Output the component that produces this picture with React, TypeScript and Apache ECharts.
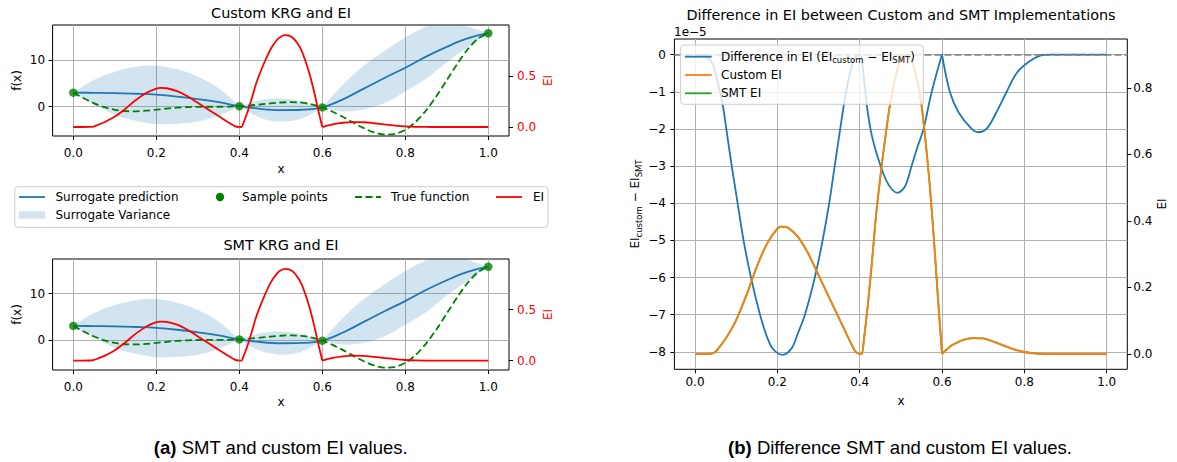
import React, { useEffect, useRef } from 'react';
import * as echarts from 'echarts';

// ---------- tick labels ----------
const xTicks = [0, 0.2, 0.4, 0.6, 0.8, 1.0];
const fTicks = [0, 10];
const eiTicksLeft = [0, 0.5];
const diffTicks = [-8, -7, -6, -5, -4, -3, -2, -1, 0];
const eiTicksRight = [0, 0.2, 0.4, 0.6, 0.8];

// ---------- true function ----------
const trueX = [0, 0.025, 0.05, 0.075, 0.1, 0.125, 0.15, 0.175, 0.2, 0.225, 0.25, 0.275, 0.3, 0.325, 0.35, 0.375, 0.4, 0.425, 0.45, 0.475, 0.5, 0.525, 0.55, 0.575, 0.6, 0.625, 0.65, 0.675, 0.7, 0.725, 0.75, 0.775, 0.8, 0.825, 0.85, 0.875, 0.9, 0.925, 0.95, 0.975, 1.0];
const trueF = [3.027, 1.813, 0.738, -0.1, -0.657, -0.935, -0.978, -0.854, -0.64, -0.407, -0.21, -0.079, -0.016, 0.0, 0.002, 0.03, 0.115, 0.27, 0.483, 0.717, 0.909, 0.986, 0.871, 0.503, -0.15, -1.074, -2.209, -3.439, -4.606, -5.522, -5.993, -5.845, -4.949, -3.254, -0.799, 2.272, 5.712, 9.187, 12.303, 14.648, 15.83];

// ---------- sample points ----------
const sampleX = [0, 0.4, 0.6, 1.0];
const sampleF = [3.03, 0.115, -0.15, 15.83];

// ---------- surrogate ----------
const surX = [0, 0.05, 0.1, 0.15, 0.2, 0.25, 0.3, 0.35, 0.4, 0.45, 0.5, 0.55, 0.6, 0.65, 0.7, 0.75, 0.8, 0.85, 0.9, 0.95, 1.0];
const surPred = [3.03, 3.0, 2.95, 2.8, 2.6, 2.2, 1.65, 1.0, 0.115, -0.45, -0.72, -0.65, -0.15, 1.6, 3.9, 6.2, 8.4, 10.8, 12.9, 14.7, 15.83];
const surUpper = [3.03, 5.8, 7.55, 8.6, 8.85, 8.05, 6.5, 4.0, 0.115, 1.45, 1.8, 1.25, -0.15, 4.8, 8.8, 12.0, 14.9, 17.2, 18.2, 17.3, 15.83];
const surLower = [3.03, 0.6, -1.7, -3.0, -3.74, -3.65, -3.2, -1.9, 0.115, -2.35, -3.2, -2.55, -0.15, -1.0, -0.6, 0.8, 3.3, 6.0, 9.6, 12.8, 15.83];

// ---------- expected improvement ----------
const eiX = [0, 0.02, 0.04, 0.05, 0.06, 0.075, 0.1, 0.125, 0.15, 0.175, 0.2, 0.21, 0.225, 0.25, 0.275, 0.3, 0.325, 0.35, 0.375, 0.39, 0.4, 0.405, 0.41, 0.42, 0.43, 0.44, 0.45, 0.46, 0.475, 0.49, 0.5, 0.51, 0.52, 0.53, 0.54, 0.55, 0.56, 0.57, 0.58, 0.59, 0.6, 0.61, 0.625, 0.65, 0.675, 0.7, 0.725, 0.75, 0.775, 0.8, 0.825, 0.85, 0.875, 0.9, 0.95, 1.0];
const eiCustom = [0, 0, 0.001, 0.007, 0.022, 0.047, 0.102, 0.177, 0.262, 0.332, 0.377, 0.383, 0.38, 0.352, 0.302, 0.237, 0.172, 0.107, 0.042, 0.007, 0.0, 0.0, 0.04, 0.15, 0.28, 0.42, 0.53, 0.63, 0.76, 0.85, 0.885, 0.9, 0.895, 0.87, 0.82, 0.75, 0.64, 0.51, 0.35, 0.17, 0.0, 0.012, 0.027, 0.042, 0.048, 0.047, 0.037, 0.025, 0.014, 0.006, 0.002, 0.0005, 0, 0, 0, 0];
const eiSMT = [0, 0, 0.001, 0.007, 0.022, 0.047, 0.102, 0.177, 0.262, 0.332, 0.377, 0.383, 0.38, 0.352, 0.302, 0.237, 0.172, 0.107, 0.042, 0.007, 0.0, 0.0, 0.04, 0.15, 0.28, 0.42, 0.53, 0.63, 0.76, 0.85, 0.885, 0.9, 0.895, 0.87, 0.82, 0.75, 0.64, 0.51, 0.35, 0.17, 0.0, 0.012, 0.027, 0.042, 0.048, 0.047, 0.037, 0.025, 0.014, 0.006, 0.002, 0.0005, 0, 0, 0, 0];

// ---------- difference (x 1e-5) ----------
const diffX = [0, 0.02, 0.04, 0.05, 0.067, 0.08, 0.09, 0.1, 0.118, 0.136, 0.158, 0.175, 0.19, 0.213, 0.235, 0.25, 0.267, 0.291, 0.31, 0.326, 0.338, 0.352, 0.367, 0.38, 0.39, 0.4, 0.405, 0.417, 0.43, 0.451, 0.47, 0.4915, 0.51, 0.526, 0.54, 0.555, 0.575, 0.6, 0.619, 0.64, 0.672, 0.688, 0.708, 0.73, 0.757, 0.781, 0.81, 0.838, 0.86, 0.9, 1.0];
const diffVals = [0, -0.02, -0.2, -0.5, -1.34, -2.3, -3.05, -3.75, -5, -6, -7, -7.6, -7.93, -8.08, -7.9, -7.5, -7, -6, -5, -4, -3.1, -2.05, -1, -0.35, -0.08, 0, -0.1, -1.34, -2.2, -3, -3.5, -3.72, -3.55, -3, -2.5, -2, -1, 0, -1, -1.55, -2, -2.09, -2, -1.6, -1, -0.5, -0.2, -0.03, 0, 0, 0];

// x positions of the kinks (sample points) where curves are not smooth
const kinkX = [0.4, 0.6];

const FONT = 'DejaVu Sans';
const CAP = 'Liberation Sans';
const BLUE = '#1f77b4';

const zip = (xs: number[], ys: number[]) => xs.map((x, i) => [x, ys[i]]);

// split a curve into pieces at the kinks (kink point belongs to both pieces)
function pieces<T>(xs: number[], rows: T[]): T[][] {
  const b = [-Infinity, ...kinkX, Infinity];
  const out: T[][] = [];
  for (let k = 0; k < b.length - 1; k++) {
    const seg: T[] = [];
    xs.forEach((x, i) => { if (x >= b[k] - 1e-9 && x <= b[k + 1] + 1e-9) seg.push(rows[i]); });
    out.push(seg);
  }
  return out;
}

function catmull(pts: number[][]) {
  let s = '';
  for (let i = 0; i < pts.length - 1; i++) {
    const p0 = pts[Math.max(i - 1, 0)], p1 = pts[i], p2 = pts[i + 1], p3 = pts[Math.min(i + 2, pts.length - 1)];
    const c1 = [p1[0] + (p2[0] - p0[0]) / 6, p1[1] + (p2[1] - p0[1]) / 6];
    const c2 = [p2[0] - (p3[0] - p1[0]) / 6, p2[1] - (p3[1] - p1[1]) / 6];
    s += 'C' + c1[0] + ',' + c1[1] + ' ' + c2[0] + ',' + c2[1] + ' ' + p2[0] + ',' + p2[1];
  }
  return s;
}

function xAxisCfg(gridIndex: number, margin: number) {
  return {
    type: 'value', gridIndex, min: -0.05, max: 1.05,
    axisLine: { show: false, onZero: false },
    axisTick: { show: true, customValues: xTicks, length: 4, lineStyle: { color: '#000', width: 1 } },
    axisLabel: { customValues: xTicks, formatter: (v: number) => v.toFixed(1), fontFamily: FONT, fontSize: 12, color: '#000', margin },
    splitLine: { show: true, lineStyle: { color: '#b0b0b0', width: 1 } },
  };
}

function yAxisCfg(gridIndex: number, min: number, max: number, ticks: number[], fmt: (v: number) => string, position: string, grid: boolean, color: string, margin: number) {
  return {
    type: 'value', gridIndex, min, max, position,
    axisLine: { show: false, onZero: false },
    axisTick: { show: true, customValues: ticks, length: 4, lineStyle: { color: '#000', width: 1 } },
    axisLabel: { customValues: ticks, formatter: fmt, fontFamily: FONT, fontSize: 12, color, margin },
    splitLine: { show: grid, lineStyle: { color: '#b0b0b0', width: 1 } },
  };
}

function bandSeries(g: number) {
  const rows = surX.map((x, i) => [x, surLower[i], surUpper[i]]);
  const segs = pieces(surX, rows);
  return {
    type: 'custom', name: 'Surrogate Variance', xAxisIndex: g, yAxisIndex: 2 * g, data: rows,
    encode: { x: 0, y: [1, 2] }, clip: true, silent: true, z: 1,
    renderItem: (params: any, api: any) => {
      if (params.dataIndex !== 0) return null;
      let d = '';
      segs.forEach((seg) => {
        const up = seg.map((r) => api.coord([r[0], r[2]]));
        const lo = seg.map((r) => api.coord([r[0], r[1]])).reverse();
        d += 'M' + up[0][0] + ',' + up[0][1] + catmull(up) + 'L' + lo[0][0] + ',' + lo[0][1] + catmull(lo) + 'Z';
      });
      const cs = params.coordSys;
      return {
        type: 'path', shape: { pathData: d }, style: { fill: 'rgba(31,119,180,0.2)' },
        clipPath: { type: 'rect', shape: { x: cs.x, y: cs.y, width: cs.width, height: cs.height } },
      };
    },
  };
}

function lineSet(name: string, xi: number, yi: number, xs: number[], ys: number[], color: string, z: number, smooth: number) {
  return pieces(xs, zip(xs, ys)).map((seg) => ({
    type: 'line', name, xAxisIndex: xi, yAxisIndex: yi, data: seg, symbol: 'none', smooth,
    lineStyle: { color, width: 1.8 }, z,
  }));
}

function leftSeries(g: number, ei: number[]) {
  const xi = g, yf = 2 * g, ye = 2 * g + 1;
  return [
    bandSeries(g),
    { type: 'line', name: 'Surrogate prediction', xAxisIndex: xi, yAxisIndex: yf, data: zip(surX, surPred), symbol: 'none', smooth: 0.4, lineStyle: { color: BLUE, width: 1.8 }, z: 3 },
    { type: 'line', name: 'True function', xAxisIndex: xi, yAxisIndex: yf, data: zip(trueX, trueF), symbol: 'none', smooth: 0.3, lineStyle: { color: '#008000', width: 1.8, type: [7, 3.5] }, z: 4 },
    { type: 'scatter', name: 'Sample points', xAxisIndex: xi, yAxisIndex: yf, data: zip(sampleX, sampleF), symbolSize: 8.5, itemStyle: { color: '#008000' }, z: 5 },
    ...lineSet('EI', xi, ye, eiX, ei, '#ff0000', 6, 0.3),
  ];
}

function txt(x: number, y: number, text: string, size: number, extra: any = {}, elExtra: any = {}) {
  return {
    type: 'text', x, y, z: 100, ...elExtra,
    style: { text, fontFamily: FONT, fontSize: size, fill: '#000', textAlign: 'center', textVerticalAlign: 'middle', ...extra },
  };
}

function buildOption() {
  const f1 = (v: number) => v.toFixed(1);
  const fInt = (v: number) => String(v);
  const fMinus = (v: number) => (v < 0 ? '\u2212' + Math.abs(v) : String(v));
  const sub = {
    n: { fontFamily: FONT, fontSize: 12, lineHeight: 16, verticalAlign: 'middle' },
    s: { fontFamily: FONT, fontSize: 8.5, lineHeight: 8, verticalAlign: 'bottom' },
  };
  const graphic: any[] = [
    txt(281, 13, 'Custom KRG and EI', 14.4),
    txt(281, 245, 'SMT KRG and EI', 14.4),
    txt(901, 15, 'Difference in EI between Custom and SMT Implementations', 14.4),
    txt(281, 169, 'x', 12),
    txt(281, 401.7, 'x', 12),
    txt(901, 400.7, 'x', 12),
    txt(16.7, 80.5, 'f(x)', 12, {}, { rotation: Math.PI / 2 }),
    txt(16.7, 314.5, 'f(x)', 12, {}, { rotation: Math.PI / 2 }),
    txt(548, 80.5, 'EI', 12, { fill: '#ff0000' }, { rotation: Math.PI / 2 }),
    txt(548, 314.5, 'EI', 12, { fill: '#ff0000' }, { rotation: Math.PI / 2 }),
    txt(1162, 204, 'EI', 12, {}, { rotation: Math.PI / 2 }),
    txt(635, 204, '{n|EI}{s|custom}{n| \u2212 EI}{s|SMT}', 12, { rich: sub }, { rotation: Math.PI / 2 }),
    txt(674, 31.7, '1e\u22125', 12, { textAlign: 'left' }),
    // left legend
    { type: 'rect', z: 90, shape: { x: 14.8, y: 186.7, width: 533.2, height: 40.6, r: 3 }, style: { fill: 'rgba(255,255,255,0.8)', stroke: '#cccccc', lineWidth: 1 } },
    { type: 'line', z: 100, shape: { x1: 19, y1: 197, x2: 45, y2: 197 }, style: { stroke: BLUE, lineWidth: 1.8 } },
    txt(55.5, 197, 'Surrogate prediction', 12, { textAlign: 'left' }),
    { type: 'circle', z: 100, shape: { cx: 220, cy: 197, r: 4.2 }, style: { fill: '#008000' } },
    txt(242, 197, 'Sample points', 12, { textAlign: 'left' }),
    { type: 'line', z: 100, shape: { x1: 355, y1: 197, x2: 381, y2: 197 }, style: { stroke: '#008000', lineWidth: 1.8, lineDash: [7, 3.5] } },
    txt(391, 197, 'True function', 12, { textAlign: 'left' }),
    { type: 'line', z: 100, shape: { x1: 496, y1: 197, x2: 522, y2: 197 }, style: { stroke: '#ff0000', lineWidth: 1.8 } },
    txt(533, 197, 'EI', 12, { textAlign: 'left' }),
    { type: 'rect', z: 100, shape: { x: 19, y: 211.3, width: 26, height: 7.4 }, style: { fill: 'rgba(31,119,180,0.2)' } },
    txt(55.5, 215, 'Surrogate Variance', 12, { textAlign: 'left' }),
    // right legend
    { type: 'rect', z: 90, shape: { x: 680.7, y: 45, width: 242.6, height: 59.3, r: 3 }, style: { fill: 'rgba(255,255,255,0.8)', stroke: '#cccccc', lineWidth: 1 } },
    { type: 'line', z: 100, shape: { x1: 685, y1: 56.7, x2: 711.7, y2: 56.7 }, style: { stroke: BLUE, lineWidth: 1.8 } },
    txt(721, 56.7, '{n|Difference in EI (EI}{s|custom}{n| \u2212 EI}{s|SMT}{n|)}', 12, { textAlign: 'left', rich: sub }),
    { type: 'line', z: 100, shape: { x1: 685, y1: 75, x2: 711.7, y2: 75 }, style: { stroke: '#ff7f0e', lineWidth: 1.8 } },
    txt(721, 75, 'Custom EI', 12, { textAlign: 'left' }),
    { type: 'line', z: 100, shape: { x1: 685, y1: 93.3, x2: 711.7, y2: 93.3 }, style: { stroke: '#2ca02c', lineWidth: 1.8 } },
    txt(721, 93.3, 'SMT EI', 12, { textAlign: 'left' }),
    // captions
    txt(280.8, 447, '{b|(a)} SMT and custom EI values.', 18.5, { fontFamily: CAP, rich: { b: { fontFamily: CAP, fontSize: 18.5, fontWeight: 'bold' } } }),
    txt(900, 447, '{b|(b)} Difference SMT and custom EI values.', 18.5, { fontFamily: CAP, rich: { b: { fontFamily: CAP, fontSize: 18.5, fontWeight: 'bold' } } }),
  ];

  const diffLines: any[] = lineSet('Difference in EI', 2, 4, diffX, diffVals, BLUE, 2, 0.35);
  diffLines[0].markLine = {
    silent: true, symbol: ['none', 'none'], label: { show: false },
    lineStyle: { color: '#808080', type: [7, 3], width: 1.5 }, data: [{ yAxis: 0 }],
  };

  return {
    animation: false,
    backgroundColor: '#ffffff',
    grid: [
      { left: 52.6, top: 25, width: 456.4, height: 111, show: true, borderColor: '#000', borderWidth: 1, backgroundColor: 'transparent' },
      { left: 52.6, top: 259, width: 456.4, height: 111, show: true, borderColor: '#000', borderWidth: 1, backgroundColor: 'transparent' },
      { left: 674.4, top: 39, width: 452.9, height: 330.3, show: true, borderColor: '#000', borderWidth: 1, backgroundColor: 'transparent' },
    ],
    xAxis: [xAxisCfg(0, 11), xAxisCfg(1, 11), xAxisCfg(2, 7)],
    yAxis: [
      yAxisCfg(0, -6.3, 17.6, fTicks, fInt, 'left', true, '#000', 7.5),
      yAxisCfg(0, -0.088, 1.0, eiTicksLeft, f1, 'right', false, '#ff0000', 8),
      yAxisCfg(1, -6.5, 17.5, fTicks, fInt, 'left', true, '#000', 7.5),
      yAxisCfg(1, -0.092, 0.996, eiTicksLeft, f1, 'right', false, '#ff0000', 8),
      yAxisCfg(2, -8.47, 0.42, diffTicks, fMinus, 'left', true, '#000', 8.5),
      yAxisCfg(2, -0.046, 0.947, eiTicksRight, f1, 'right', false, '#000', 6),
    ],
    series: [
      ...leftSeries(0, eiCustom),
      ...leftSeries(1, eiSMT),
      ...diffLines,
      ...lineSet('SMT EI', 2, 5, eiX, eiSMT, '#2ca02c', 3, 0.3),
      ...lineSet('Custom EI', 2, 5, eiX, eiCustom, '#ff7f0e', 4, 0.3),
    ],
    graphic,
  };
}

export default function App() {
  const ref = useRef<HTMLDivElement>(null);
  useEffect(() => {
    if (!ref.current) return;
    const chart = echarts.init(ref.current, null, { renderer: 'svg', width: 1177, height: 462 });
    chart.setOption(buildOption() as any);
    return () => chart.dispose();
  }, []);
  return <div ref={ref} style={{ position: 'fixed', left: 0, top: 0, width: 1177, height: 462, background: '#fff' }} />;
}
